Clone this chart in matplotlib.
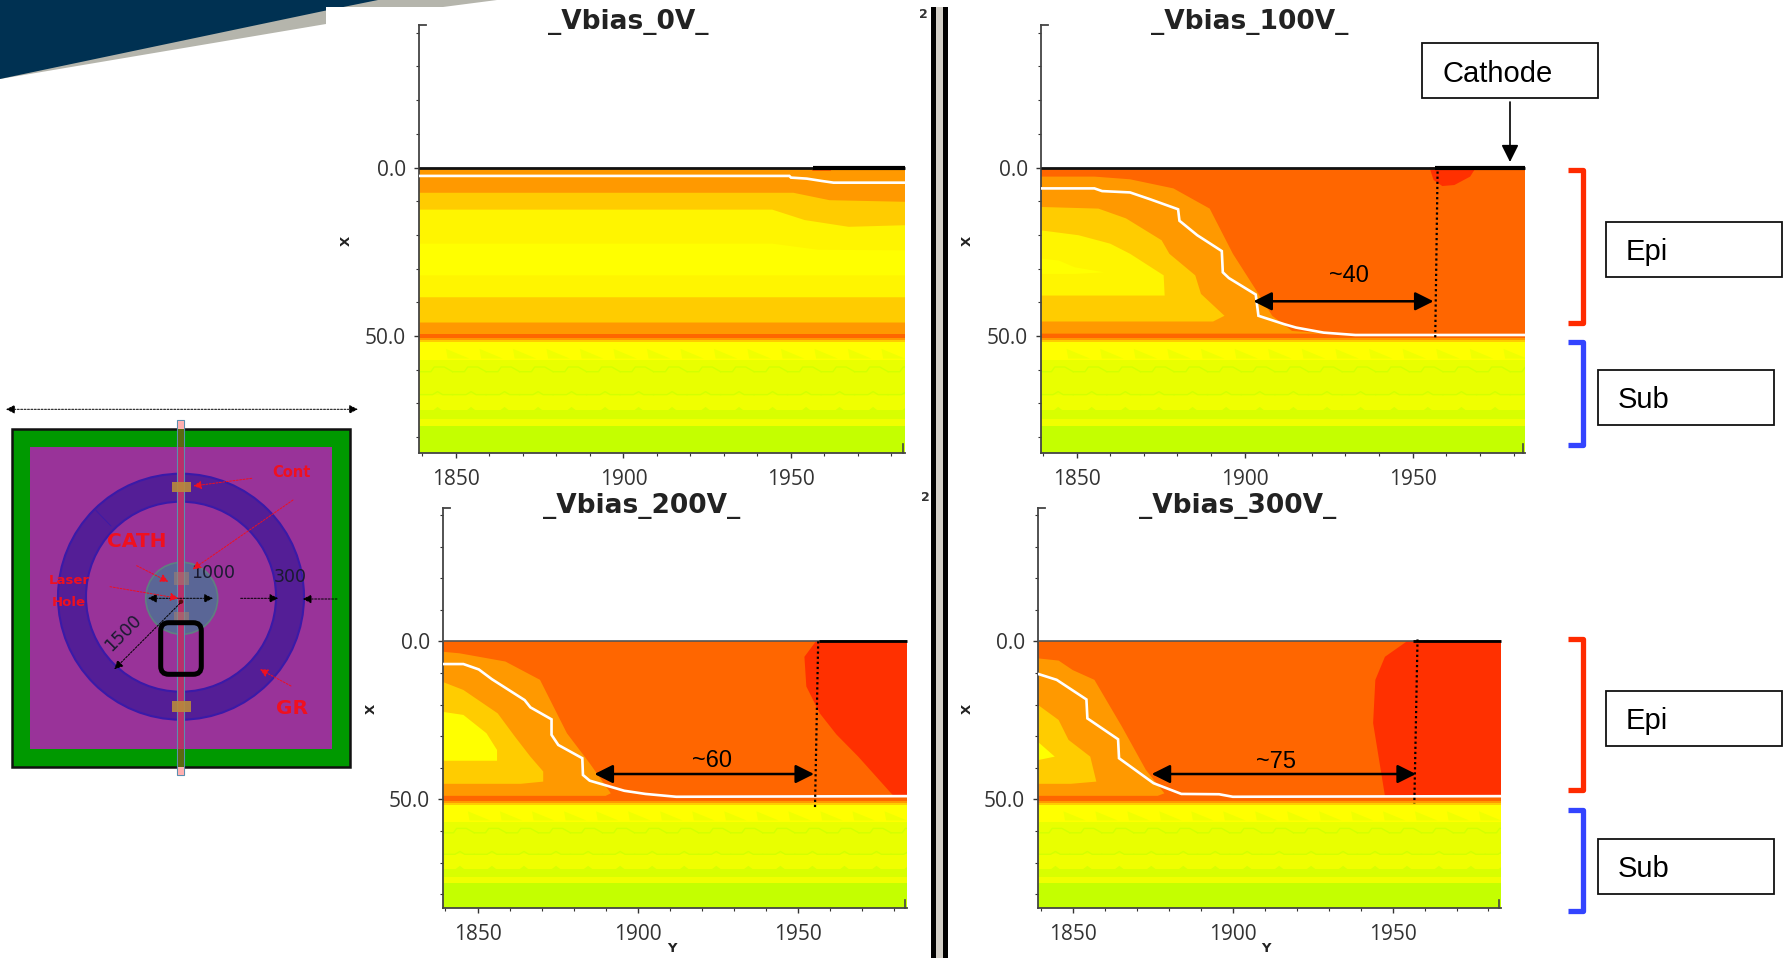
import numpy as np
import matplotlib
matplotlib.use("Agg")
import matplotlib.pyplot as plt
from matplotlib.patches import Circle, Rectangle, FancyBboxPatch, Polygon

W, H = 1787, 958
DEEP_RED = "#ff3000"
RED_ORANGE = "#ff6600"
ORANGE = "#ff9900"
GOLD = "#ffcc00"
PALE_YELLOW = "#fff500"
YELLOW = "#ffff00"
LIME = "#e9ff00"
LIME_2 = "#f0ff00"
GREEN_LIME = "#c4ff00"

XTICKS = [1850, 1900, 1950]
XMINOR = [1840, 1860, 1870, 1880, 1890, 1910, 1920, 1930, 1940, 1960, 1970, 1980]
YTICKS = [0.0, 50.0]
YMINOR = [-40, -30, -20, -10, 10, 20, 30, 40, 60, 70, 80]

# left, right, top, bottom, px of 1850, px of 1950, px of 0.0, px of 50.0
GEOM_0V = (419, 905, 25, 453, 456, 791, 167.5, 336)
GEOM_100V = (1041, 1525, 25, 453, 1076.6, 1412.7, 167.5, 336)
GEOM_200V = (443, 907, 508, 908, 477.5, 798, 641.3, 799.3)
GEOM_300V = (1038, 1501, 508, 908, 1073, 1392.6, 641.3, 799.3)

# 0V, flat bands that dip towards the cathode
V0_ORANGE_Y = [1839, 1950.7, 1961.5, 1985]
V0_ORANGE_X = [7.5, 7.5, 9.7, 10.2]
V0_GOLD_Y = [1839, 1944.4, 1954.1, 1967.2, 1985]
V0_GOLD_X = [12.5, 12.5, 15.6, 17.6, 17.1]
V0_YELLOW_Y = [1839, 1944.4, 1958, 1985]
V0_YELLOW_X = [22.6, 22.6, 24.4, 24.6]
V0_WHITE_Y = [1839, 1949.5, 1950, 1954.7, 1959.2, 1962.7, 1985]
V0_WHITE_X = [2.5, 2.5, 3, 3.3, 4, 4.5, 4.5]

# 100V
V100_ORANGE_Y = [1839, 1855.3, 1865.9, 1878.8, 1889.6, 1896.5, 1902.9, 1908.2, 1914.1, 1925, 1839]
V100_ORANGE_X = [2.7, 2.7, 3.5, 6.2, 12.2, 25.6, 35.6, 44, 48.5, 49.3, 49.3]
V100_GOLD_Y = [1839, 1856.5, 1864.7, 1875.3, 1877.6, 1885.3, 1887, 1894, 1890.6, 1839]
V100_GOLD_X = [11.7, 12.2, 15.1, 21.6, 25.6, 32, 37.5, 44, 45.7, 45.7]
V100_PALE_Y = [1839, 1850.6, 1860, 1865.9, 1875.9, 1876.2, 1839]
V100_PALE_X = [18.6, 20.1, 22.6, 25.6, 32, 38, 38]
V100_YELLOW_Y = [1839, 1844.7, 1849.4, 1858.2, 1849.4, 1839]
V100_YELLOW_X = [27, 27.6, 29.6, 31.1, 31.6, 31.6]
V100_RED_Y = [1955, 1956.2, 1958.8, 1962.4, 1967.1, 1968.8]
V100_RED_X = [0, 3.7, 5.5, 5.2, 2.7, 0]
V100_WHITE_Y = [1839, 1855.3, 1857.6, 1865.9, 1871.8, 1880.2, 1880.6, 1885.9, 1893.2, 1893.5, 1895.3,
                1903.3, 1904.1, 1911.8, 1915.3, 1923.5, 1932.9, 1985]
V100_WHITE_X = [6.2, 6.2, 7, 7.4, 9.4, 12.4, 15.8, 20.1, 24.8, 31.1, 32.8, 37.7, 44, 46.5, 47.5, 49, 49.7, 49.7]

# 200V
V200_ORANGE_Y = [1839, 1844.4, 1858.7, 1869.5, 1877.9, 1885, 1891.6, 1890, 1839]
V200_ORANGE_X = [3.3, 3.8, 6.4, 12.2, 29.1, 38.6, 48.1, 48.9, 48.9]
V200_GOLD_Y = [1839, 1845.6, 1856.3, 1861.7, 1866.5, 1870.5, 1870.5, 1863.5, 1839]
V200_GOLD_X = [12.8, 15.4, 22.8, 30.2, 36.5, 41.2, 44.4, 45.1, 45.1]
V200_YELLOW_Y = [1839, 1845.6, 1852.8, 1856.1, 1856.1, 1839]
V200_YELLOW_X = [22.3, 23.3, 29.1, 34.4, 37.8, 37.8]
V200_RED_Y = [1955.6, 1952, 1952.6, 1956.8, 1962, 1968.8, 1979.5, 1985, 1985]
V200_RED_X = [0, 4.9, 14.3, 22.8, 29.5, 36.5, 48.6, 48.9, 0]
V200_WHITE_Y = [1839, 1845.6, 1850.4, 1854.5, 1864.7, 1866.5, 1873.1, 1873.1, 1875.2, 1882.7, 1882.9,
                1885, 1895.8, 1902.4, 1912, 1985]
V200_WHITE_X = [7.2, 7.2, 8.9, 12, 18.6, 20.9, 24.7, 29.6, 32.8, 37, 42.3, 44.1, 47.3, 48.3, 49.2, 49]

# 300V
V300_ORANGE_Y = [1839, 1845.5, 1849.9, 1856.7, 1865.3, 1872.8, 1878.6, 1876.5, 1839]
V300_ORANGE_X = [5.4, 6.1, 9.1, 12.2, 27, 40.7, 48.1, 48.9, 48.9]
V300_GOLD_Y = [1839, 1845.5, 1848.6, 1855.4, 1857.3, 1849.3, 1839]
V300_GOLD_X = [20.1, 24.9, 31.2, 36.5, 44.4, 45.1, 45.1]
V300_YELLOW_Y = [1839, 1844.3, 1839]
V300_YELLOW_X = [31.8, 36.5, 37.6]
V300_RED_Y = [1954.5, 1947.6, 1944.6, 1943.9, 1947.6, 1985, 1985]
V300_RED_X = [0, 4.9, 12.2, 25.9, 48.9, 48.9, 0]
V300_WHITE_Y = [1839, 1844.9, 1854.2, 1854.5, 1864.1, 1864.4, 1875.2, 1883.9, 1895.7, 1900, 1985]
V300_WHITE_X = [10.3, 12.2, 18.4, 24.4, 31, 37, 44.9, 48.3, 48.4, 49.2, 49]

# substrate, same in every panel
SUB_PERIODS = [1839, 1849, 1859, 1869, 1879, 1889, 1899, 1909, 1919, 1929, 1939, 1949, 1959, 1969, 1979]
WAVE_PHASE = [0, 3.5, 4.5, 7.5, 10]
WAVE_OFFSET = [0, 0, -1.4, -1.4, 0]
BUMP_PHASE = [0, 4, 5.5, 7, 10]
BUMP_OFFSET = [0, 0, -0.9, 0, 0]
TRI_PHASE = [8.0, 15.0, 8.5]
TRI_X = [53.8, 56.7, 56.7]

# arrows across the depletion gap
GAP_100V = (1902.6, 1956.2, 39.7, "~40", 1931, 32)
GAP_200V = (1886.5, 1955, 42, "~60", 1923.3, 37.6)
GAP_300V = (1874.6, 1957.3, 42, "~75", 1913.6, 38)
DOT_100V = ([1957.4, 1956.7], [1.2, 51])
DOT_200V = ([1956.3, 1955.3], [0, 52.8])
DOT_300V = ([1957.8, 1956.8], [-0.6, 51.3])

fig = plt.figure(figsize=(W / 100, H / 100), dpi=100, facecolor="white")
deco = fig.add_axes([0, 0, 1, 1], zorder=0)
deco.set_xlim(0, W)
deco.set_ylim(H, 0)
deco.axis("off")


def panel_axes(geom):
    left, right, top, bottom, p1850, p1950, p0, p50 = geom
    ax = fig.add_axes([left / W, 1 - bottom / H, (right - left) / W, (bottom - top) / H], zorder=2)
    ax.patch.set_alpha(0)
    sx = (p1950 - p1850) / 100
    sy = (p50 - p0) / 50
    ax.set_xlim(1850 + (left - p1850) / sx, 1850 + (right - p1850) / sx)
    ax.set_ylim((bottom - p0) / sy, (top - p0) / sy)
    return ax


def draw_substrate(ax):
    x0, x1 = ax.get_xlim()
    ybot = ax.get_ylim()[0]
    ax.axhspan(50.5, 51.2, color=ORANGE, lw=0)
    ax.axhspan(51.2, 51.8, color=GOLD, lw=0)
    ax.axhspan(51.8, 57.2, color=YELLOW, lw=0)
    ax.axhspan(57.2, 67.4, color=LIME, lw=0)
    ax.axhspan(67.4, 72.1, color=LIME_2, lw=0)
    ax.axhspan(72.1, 74.6, color="#d8ff00", lw=0)
    ax.axhspan(74.6, 76.6, color=LIME_2, lw=0)
    ax.axhspan(76.6, ybot, color=GREEN_LIME, lw=0)
    for start in SUB_PERIODS:
        ax.fill([start + p for p in TRI_PHASE], TRI_X, color=LIME_2, lw=0, clip_on=True)
        ax.plot([start + p for p in WAVE_PHASE], [60.6 + o for o in WAVE_OFFSET], color="#d4ff00", lw=1)
        ax.plot([start + p for p in BUMP_PHASE], [67.4 + o for o in BUMP_OFFSET], color="#d4ff00", lw=1)
        ax.fill([start + p for p in BUMP_PHASE], [72.2 + o * 1.3 for o in BUMP_OFFSET], color="#d8ff00", lw=0)
    ax.set_xlim(x0, x1)


def style_axes(ax, thick_top, xlabel=False):
    for s in ["top", "right"]:
        ax.spines[s].set_visible(False)
    for s in ["left", "bottom"]:
        ax.spines[s].set_color("#444444")
        ax.spines[s].set_linewidth(1.3)
    ax.set_xticks(XTICKS)
    ax.set_xticks(XMINOR, minor=True)
    ax.set_yticks(YTICKS)
    ax.set_yticks(YMINOR, minor=True)
    ax.set_yticklabels(["0.0", "50.0"])
    ax.tick_params(which="major", length=3.5, width=1, color="#333333", labelsize=15,
                   labelcolor="#333333", pad=6)
    ax.tick_params(axis="x", which="major", pad=8)
    ax.tick_params(which="minor", length=2.5, width=0.8, color="#333333")
    for t in ax.get_xticklabels() + ax.get_yticklabels():
        t.set_family("Open Sans")
    # little end caps of the plot frame
    ax.plot([0, 0.015], [1, 1], transform=ax.transAxes, color="#444444", lw=1.3, clip_on=False)
    ax.plot([0.995, 0.995], [0, 0.02], transform=ax.transAxes, color="#444444", lw=1.2, clip_on=False)
    x0, x1 = ax.get_xlim()
    if thick_top:
        ax.plot([x0, x1], [0, 0], color="#111111", lw=2, clip_on=False, solid_capstyle="butt", zorder=5)
        ax.plot([1956.5, x1], [0, 0], color="black", lw=3, clip_on=False, solid_capstyle="butt", zorder=5)
    else:
        ax.plot([x0, x1], [0, 0], color="#555555", lw=1.2, clip_on=False, solid_capstyle="butt", zorder=5)
        ax.plot([1956.5, x1], [0, 0], color="black", lw=2, clip_on=False, solid_capstyle="butt", zorder=5)


def draw_gap(ax, gap, dots):
    y0, y1, xv, label, ty, tx = gap
    ax.annotate("", xy=(y0, xv), xytext=(y1, xv),
                arrowprops=dict(arrowstyle="<|-|>", color="black", lw=1.8, mutation_scale=28,
                                shrinkA=0, shrinkB=0), zorder=7)
    ax.plot(dots[0], dots[1], color="black", lw=1.6, ls=(0, (1, 1.3)), zorder=7, clip_on=False)
    ax.text(ty, tx + 0.3, label, fontsize=17, family="Liberation Sans", ha="center", va="center", zorder=7)


def white_line(ax, ys, xs):
    ax.plot(ys, xs, color="white", lw=1.9, zorder=4, solid_joinstyle="miter")


# 0V
ax = panel_axes(GEOM_0V)
ax.axhspan(0, 50.5, color=ORANGE, lw=0)
ax.fill(V0_ORANGE_Y + [1985, 1839], V0_ORANGE_X + [46, 46], color=GOLD, lw=0)
ax.fill(V0_GOLD_Y + [1985, 1839], V0_GOLD_X + [38.5, 38.5], color=PALE_YELLOW, lw=0)
ax.fill(V0_YELLOW_Y + [1985, 1839], V0_YELLOW_X + [32, 32], color=YELLOW, lw=0)
ax.axhspan(49.3, 50.5, color=RED_ORANGE, lw=0)
ax.fill([1956.4, 1962, 1962, 1956.4], [0, 0, 1, 1], color=RED_ORANGE, lw=0)
draw_substrate(ax)
white_line(ax, V0_WHITE_Y, V0_WHITE_X)
style_axes(ax, True)

# 100V
ax = panel_axes(GEOM_100V)
ax.axhspan(0, 50.5, color=RED_ORANGE, lw=0)
ax.fill(V100_ORANGE_Y, V100_ORANGE_X, color=ORANGE, lw=0)
ax.fill(V100_GOLD_Y, V100_GOLD_X, color=GOLD, lw=0)
ax.fill(V100_PALE_Y, V100_PALE_X, color=PALE_YELLOW, lw=0)
ax.fill(V100_YELLOW_Y, V100_YELLOW_X, color=YELLOW, lw=0)
ax.fill(V100_RED_Y, V100_RED_X, color=DEEP_RED, lw=0)
draw_substrate(ax)
white_line(ax, V100_WHITE_Y, V100_WHITE_X)
style_axes(ax, True)
draw_gap(ax, GAP_100V, DOT_100V)

# 200V
ax = panel_axes(GEOM_200V)
ax.axhspan(0, 50.5, color=RED_ORANGE, lw=0)
ax.fill(V200_ORANGE_Y, V200_ORANGE_X, color=ORANGE, lw=0)
ax.fill(V200_GOLD_Y, V200_GOLD_X, color=GOLD, lw=0)
ax.fill(V200_YELLOW_Y, V200_YELLOW_X, color=YELLOW, lw=0)
ax.fill(V200_RED_Y, V200_RED_X, color=DEEP_RED, lw=0)
draw_substrate(ax)
white_line(ax, V200_WHITE_Y, V200_WHITE_X)
style_axes(ax, False)
draw_gap(ax, GAP_200V, DOT_200V)

# 300V
ax = panel_axes(GEOM_300V)
ax.axhspan(0, 50.5, color=RED_ORANGE, lw=0)
ax.fill(V300_ORANGE_Y, V300_ORANGE_X, color=ORANGE, lw=0)
ax.fill(V300_GOLD_Y, V300_GOLD_X, color=GOLD, lw=0)
ax.fill(V300_YELLOW_Y, V300_YELLOW_X, color=YELLOW, lw=0)
ax.fill(V300_RED_Y, V300_RED_X, color=DEEP_RED, lw=0)
draw_substrate(ax)
white_line(ax, V300_WHITE_Y, V300_WHITE_X)
style_axes(ax, False)
draw_gap(ax, GAP_300V, DOT_300V)

# titles and axis letters, everything here is in figure pixels
for txt, x, y in [("_Vbias_0V_", 628, 22), ("_Vbias_100V_", 1250, 22),
                  ("_Vbias_200V_", 642, 506), ("_Vbias_300V_", 1238, 506)]:
    deco.text(x, y, txt, fontsize=19, fontweight="bold", family="DejaVu Sans", ha="center", va="center",
              color="#222222", zorder=6)
for x, y in [(346, 241), (967, 241), (371, 709), (967, 709)]:
    deco.text(x, y, "X", fontsize=9.5, fontweight="bold", rotation=90, ha="center", va="center", color="#222222")
for x, y in [(672, 948), (1266, 948)]:
    deco.text(x, y, "Y", fontsize=9.5, fontweight="bold", ha="center", va="center", color="#222222")

# banner
deco.add_patch(Polygon([(0, 0), (497, 0), (443, 7), (326, 24), (0, 79)], fc="#b5b5ac", ec="none"))
deco.add_patch(Polygon([(0, 0), (378, 0), (326, 10.5), (0, 79)], fc="#003152", ec="none"))
deco.add_patch(Rectangle((326, 7), 220, 100, fc="white", ec="none", zorder=1))

# separator bars
deco.add_patch(Rectangle((930.7, 7), 5.3, 951, fc="black", ec="none"))
deco.add_patch(Rectangle((936, 7), 7.4, 951, fc="#d2cec6", ec="none"))
deco.add_patch(Rectangle((943.4, 7), 4.8, 951, fc="black", ec="none"))
deco.text(923, 14, "2", fontsize=9, fontweight="bold", ha="center", va="center", color="#333333")
deco.text(925, 497, "2", fontsize=9, fontweight="bold", ha="center", va="center", color="#333333")

# side labels
BOX_LABELS = [("Cathode", 1422, 1598, 43, 98, 1442), ("Epi", 1605.5, 1781.5, 221.5, 276.5, 1626),
              ("Sub", 1598, 1774, 369.5, 425, 1618), ("Epi", 1605.5, 1781.5, 691, 745.5, 1626),
              ("Sub", 1598, 1774, 839, 893.5, 1618)]
for txt, x0, x1, y0, y1, tx in BOX_LABELS:
    deco.add_patch(Rectangle((x0, y0), x1 - x0, y1 - y0, fc="white", ec="#111111", lw=1.3))
    deco.text(tx, (y0 + y1) / 2 + 3, txt, fontsize=21, family="Liberation Sans", ha="left", va="center")
deco.annotate("", xy=(1510, 162), xytext=(1510, 102),
              arrowprops=dict(arrowstyle="-|>", color="black", lw=1.2, mutation_scale=26, shrinkA=0, shrinkB=0))
for col, y0, y1 in [("#ff2a00", 170, 323), ("#3344ff", 342, 445), ("#ff2a00", 639, 790), ("#3344ff", 810, 911)]:
    deco.plot([1568, 1583, 1583, 1568], [y0, y0, y1, y1], color=col, lw=3.8, solid_joinstyle="round",
              solid_capstyle="butt")

# device sketch on the left
cx, cy = 181, 596.7
deco.add_patch(Rectangle((11.7, 429), 338.3, 338, fc="#009900", ec="#111111", lw=1.8))
deco.add_patch(Rectangle((30, 447.3), 302.3, 302, fc="#993399", ec="none"))
deco.add_patch(Circle((cx, cy), 123, fc="#541e96", ec="#3a1aa8", lw=1.5))
deco.add_patch(Circle((cx, cy), 95, fc="#993399", ec="#3a1aa8", lw=1.5))
deco.add_patch(Circle((181.7, 598.3), 36, fc="#5a6696", ec="#5f8080", lw=1.2))
deco.plot([96, 111], [510.5, 526], color="#3a1aa8", lw=0.6)
deco.add_patch(Rectangle((177.3, 420), 6.7, 355, fc="#b8306a", ec="#5a8fb0", lw=0.8))
deco.add_patch(Rectangle((177.8, 429), 5.7, 18, fc="#5a6a10", ec="none"))
deco.add_patch(Rectangle((177.8, 749.3), 5.7, 18, fc="#5a6a10", ec="none"))
deco.add_patch(Rectangle((177.8, 420.5), 5.7, 8.5, fc="#ffb0b0", ec="none"))
deco.add_patch(Rectangle((177.8, 767), 5.7, 8, fc="#ffb0b0", ec="none"))
for y0, y1 in [(482.3, 492.3), (701, 711.7)]:
    deco.add_patch(Rectangle((172.3, y0), 18.4, y1 - y0, fc="#b88a3c", ec="none", alpha=0.9))
for y0, y1 in [(571.5, 585), (611.5, 623)]:
    deco.add_patch(Rectangle((174, y0), 14.7, y1 - y0, fc="#a08070", ec="none", alpha=0.6))
deco.add_patch(Circle((181, 601.7), 2.2, fc="#5a0f10", ec="none"))
deco.add_patch(FancyBboxPatch((160.7, 622.7), 40.6, 51.6, boxstyle="round,pad=0,rounding_size=8",
                              fc="none", ec="black", lw=3.6))

for txt, x, y, fs, wt in [("CATH", 137, 541.7, 14.5, "bold"), ("Cont", 291.7, 472.7, 10.5, "bold"),
                          ("Laser", 69, 580.7, 9.5, "bold"), ("Hole", 68.3, 602.3, 9.5, "bold"),
                          ("GR", 291.7, 708.3, 14.5, "bold")]:
    deco.text(x, y, txt, color="#f0101f", fontsize=fs, fontweight=wt, ha="center", va="center")
deco.text(213, 573, "1000", fontsize=12.5, color="#1a1a30", ha="center", va="center")
deco.text(290, 577, "300", fontsize=12.5, color="#1a1a30", ha="center", va="center")
deco.text(123, 632.7, "1500", fontsize=12.5, color="#1a1a30", rotation=45, ha="center", va="center")

BLACK_ARROWS = [((6, 409.3), (358, 409.3), "<|-|>"), ((148, 598.3), (213, 598.3), "<|-|>"),
                ((240.7, 598.3), (278.3, 598.3), "-|>"), ((337, 599), (302.7, 599), "-|>"),
                ((180, 603.3), (114.3, 669.3), "-|>")]
RED_ARROWS = [((251.7, 478.3), (193.3, 486)), ((293, 500), (192.7, 569.3)), ((136.7, 565.7), (168.3, 581.7)),
              ((110, 586.7), (178.3, 598.3)), ((291, 686), (260, 669.3))]
for a, b, style in BLACK_ARROWS:
    deco.annotate("", xy=b, xytext=a, arrowprops=dict(arrowstyle=style, color="black", lw=0.7, ls=(0, (2, 1.5)),
                                                     mutation_scale=13, shrinkA=0, shrinkB=0))
for a, b in RED_ARROWS:
    deco.annotate("", xy=b, xytext=a, arrowprops=dict(arrowstyle="-|>", color="#f0101f", lw=0.7, ls=(0, (2, 1.5)),
                                                     mutation_scale=12, shrinkA=0, shrinkB=0))

fig.savefig("out.png", dpi=100)
